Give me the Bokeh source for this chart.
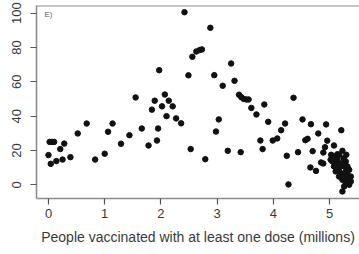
from bokeh.plotting import figure
from bokeh.models import Range1d, FixedTicker, Label, Span
from bokeh.embed import file_html
from bokeh.resources import INLINE

# ---- data ----
vaccinated_millions = [
    0.02, 0.06, 0.10, 0.28, 0.21, 0.00, 0.04, 0.14, 0.25, 0.39, 0.52, 0.68, 0.83, 1.00, 1.06, 1.14,
    1.29, 1.44, 1.66, 1.95, 1.78, 1.93, 2.53,
    1.84, 1.89, 2.02, 2.14, 2.21, 2.10, 2.27, 2.36,
    1.97, 1.55, 2.07,
    2.42, 2.88, 2.56, 2.63, 2.69, 2.73, 2.49, 2.95, 3.25, 3.10, 3.31,
    3.39, 3.43, 3.47, 3.52, 3.56, 3.61, 3.70, 3.84, 4.36,
    3.03, 3.91, 4.21, 4.52, 4.67, 4.94, 5.21,
    2.98, 2.79, 3.19, 3.42, 3.77, 3.81, 3.99, 4.07, 4.14,
    4.24, 4.27, 4.44, 4.57, 4.61, 4.80, 4.96, 4.70, 4.66, 4.76,
    5.08, 4.92, 4.89, 4.85, 4.89, 5.23, 5.23, 5.14,
    5.03, 5.11, 5.17, 5.25, 5.05, 5.14, 5.22, 5.29, 5.08, 5.17, 5.26, 5.32,
    5.11, 5.20, 5.29, 5.35, 5.17, 5.26, 5.32, 5.38, 5.23, 5.32, 5.38, 5.29,
    5.35, 5.26, 5.14, 5.02, 5.30, 5.35,
]
outcome_values = [
    25.0, 25.0, 25.0, 24.0, 20.8, 17.3, 12.2, 13.8, 14.7, 16.1, 29.9, 35.7, 14.7, 18.1, 30.9, 35.7,
    23.9, 28.9, 32.8, 32.8, 22.9, 25.8, 20.8,
    43.8, 49.0, 45.7, 49.0, 45.7, 40.0, 38.7, 35.8,
    66.8, 50.9, 52.6,
    100.6, 91.5, 74.6, 77.7, 78.5, 78.9, 63.8, 63.9, 70.7, 57.7, 60.6,
    52.5, 51.1, 50.1, 49.7, 49.7, 44.8, 41.0, 46.8, 50.7,
    38.1, 36.7, 35.7, 38.1, 35.3, 35.2, 31.8,
    31.0, 14.9, 19.8, 19.0, 25.8, 20.8, 25.8, 27.0, 31.8,
    16.9, 0.2, 19.0, 26.0, 26.8, 29.9, 25.7, 19.6, 10.1, 8.1,
    22.9, 21.9, 18.8, 13.0, 12.4, 19.8, -3.9, 17.8,
    17.5, 16.5, 17.5, 15.5, 13.6, 12.6, 12.6, 13.6, 10.7, 9.7, 10.7, 10.7,
    7.8, 6.8, 7.8, 8.7, 4.8, 4.8, 5.8, 4.8, 2.9, 2.9, 1.9, 0.9,
    0.0, -1.0, 14.6, 14.6, 17.5, 3.9,
]
x_ticks = [0, 1, 2, 3, 4, 5]
y_ticks = [0, 20, 40, 60, 80, 100]
panel_label = "E)"
x_title = "People vaccinated with at least one dose (millions)"

FRAME = "#8c8c8c"
TEXT = "#3a3a3a"
FONT = "Liberation Sans"

p = figure(width=359, height=254, output_backend="svg", toolbar_location=None,
           x_range=Range1d(-0.2135, 5.534), y_range=Range1d(-8.0, 104.5),
           min_border_left=36, min_border_right=0, min_border_top=5, min_border_bottom=56,
           background_fill_color="white", border_fill_color="white")
p.outline_line_color = None
p.grid.visible = False

p.scatter(vaccinated_millions, outcome_values, size=5.5, color="#111111", marker="circle")

for ax in (p.xaxis[0], p.yaxis[0]):
    ax.axis_line_color = FRAME
    ax.axis_line_width = 1.6
    ax.major_tick_line_color = "#555555"
    ax.major_tick_line_width = 1.2
    ax.major_tick_out = 6
    ax.major_tick_in = 0
    ax.minor_tick_line_color = None
    ax.major_label_text_color = TEXT
    ax.major_label_text_font = FONT
    ax.major_label_text_font_size = "13px"

p.xaxis.ticker = FixedTicker(ticks=x_ticks)
p.yaxis.ticker = FixedTicker(ticks=y_ticks)
p.yaxis.major_label_orientation = "vertical"
p.xaxis.major_label_standoff = 4
p.yaxis.major_label_standoff = 9

p.xaxis.axis_label = x_title
p.xaxis.axis_label_text_font = FONT
p.xaxis.axis_label_text_font_size = "14px"
p.xaxis.axis_label_text_font_style = "normal"
p.xaxis.axis_label_text_color = TEXT
p.xaxis.axis_label_standoff = 8

top_line = Span(location=p.y_range.end, dimension="width", line_color=FRAME, line_width=1.8)
p.add_layout(top_line)

# screen units are measured from the frame's bottom-left corner
p.add_layout(Label(x=8, y=184, x_units="screen", y_units="screen", text=panel_label,
                   text_font=FONT, text_font_size="8px", text_color="#666666",
                   text_baseline="middle"))

open("out.html", "w").write(file_html(p, INLINE))
